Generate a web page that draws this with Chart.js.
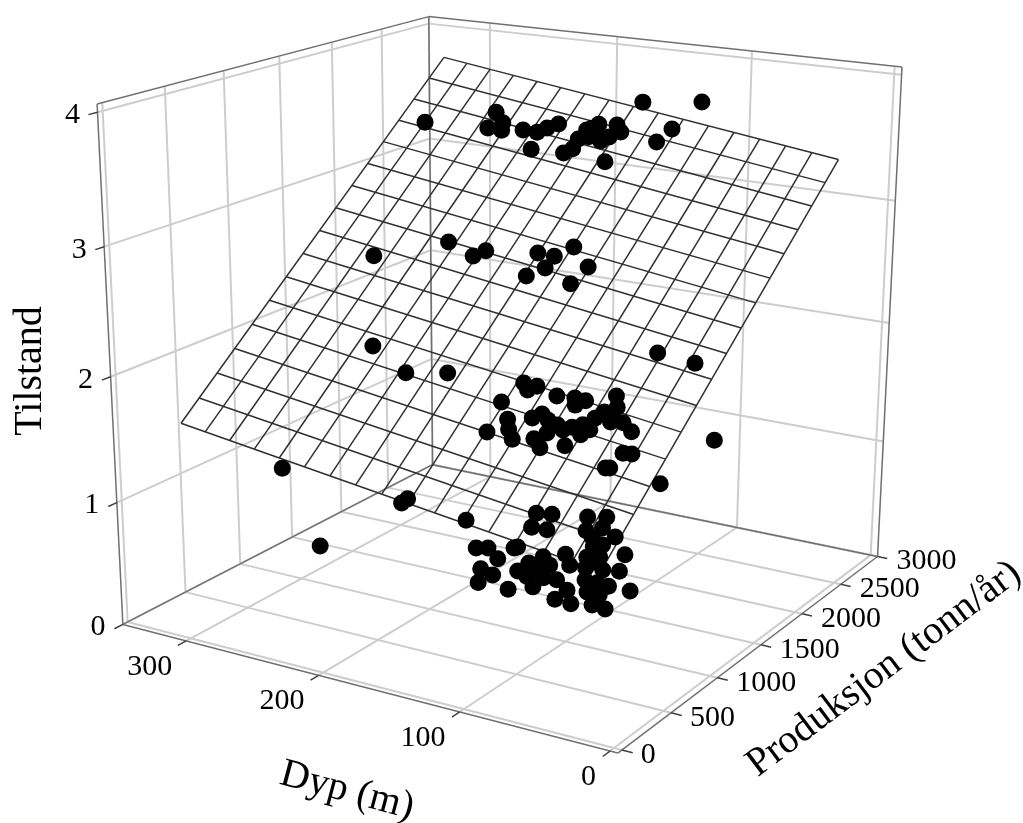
<!DOCTYPE html>
<html>
<head>
<meta charset="utf-8">
<style>body{margin:0;background:#fff}</style>
<script src="https://cdn.jsdelivr.net/npm/chart.js@4"></script>
</head>
<body>
<canvas id="my-chart" width="1023" height="823"></canvas>
<script>
// values, one group per tilstand level
const dyp4 = [171,151,132,132,122,112,102,103,103,82,62,63,73,81,83,69,60,61,73,62,32,92,62,41,32,81,71];
const prod4 = [620,1010,810,670,660,720,710,820,930,370,380,480,680,880,1030,810,700,800,1060,930,320,1620,1780,1120,820,930,750];
const dyp3 = [201,181,151,151,122,110,111,101,81,101,71];
const prod3 = [530,960,790,910,1010,1000,1210,780,910,600,590];
const dyp2 = [251,202,180,130,121,120,122,100,89,82,81,70,59,102,92,81,100,91,90,81,70,71,60,72,65,50,63,52,52,60,60,61,56,49,42,30,16,11,10,12,91,61];
const prod2 = [1130,820,930,990,900,980,660,890,910,810,900,1050,890,440,310,190,220,520,600,530,360,250,150,490,440,240,500,420,510,560,680,790,800,670,690,590,290,300,70,60,1820,1760];
const dyp1 = [91,81,301,150,201,200,200,120,111,110,100,90,80,79,59,70,73,120,114,100,101,100,100,89,90,70,70,79,81,80,72,71,60,62,69,59,54,41,40,29,57,40,51,62,49,39,30,40,24,32,30,22,10,18,9,50,59,21];
const prod1 = [2520,1720,860,700,810,740,0,980,1010,790,800,1070,1120,890,890,820,970,390,420,510,490,320,160,120,0,0,550,460,350,230,290,190,90,220,380,430,230,140,10,0,570,700,610,710,440,460,490,300,290,300,170,170,290,40,30,530,760,130];

const dypTicks = [0,100,200,300];
const prodTicks = [0,500,1000,1500,2000,2500,3000];
const tilstandTicks = [0,1,2,3,4];

// box limits of the 3d axes
const dypLo = -5, dypHi = 350, prodLo = -40, prodHi = 3000, tilstandHi = 4.06;

// fitted regression plane and the extent of its mesh
const planeA = 1.03, planeDyp = 0.0015, planeProd = 0.000858;
const meshDyp = [20,315], meshProd = [150,2700], meshCells = 16;

// camera fitted to the box corners, maps (dyp/100, prod/1000, tilstand) to the flat scales
const camera = [-134.725,141.058,-8.79105,614.068,-15.3046,-28.8965,-144.631,748,0.0332925,0.0637761,-0.0176859];

function project(dyp, prod, tilstand) {
    const d = dyp / 100, p = prod / 1000, c = camera;
    const w = c[8] * d + c[9] * p + c[10] * tilstand + 1;
    return {
        x: (c[0] * d + c[1] * p + c[2] * tilstand + c[3]) / w,
        y: (c[4] * d + c[5] * p + c[6] * tilstand + c[7]) / w
    };
}

function line(from, to, color, width) {
    return {
        type: 'scatter', showLine: true, tension: 0, pointRadius: 0,
        borderColor: color, borderWidth: width, clip: false,
        data: [project(...from), project(...to)]
    };
}

const gridColor = '#cdcdcd', edgeColor = '#707070', meshColor = '#303030', tickColor = '#404040';
const grid = [], edges = [], mesh = [], ticks = [];

// walls and floor
dypTicks.forEach(d => {
    grid.push(line([d, prodLo, 0], [d, prodHi, 0], gridColor, 2));
    grid.push(line([d, prodHi, 0], [d, prodHi, tilstandHi], gridColor, 2));
    ticks.push(line([d, prodLo, 0], [d, prodLo - 70, 0], tickColor, 1.5));
});
prodTicks.forEach(p => {
    grid.push(line([dypLo, p, 0], [dypHi, p, 0], gridColor, 2));
    grid.push(line([dypHi, p, 0], [dypHi, p, tilstandHi], gridColor, 2));
    ticks.push(line([dypLo, p, 0], [dypLo - 7, p, 0], tickColor, 1.5));
});
tilstandTicks.forEach(t => {
    grid.push(line([dypHi, prodLo, t], [dypHi, prodHi, t], gridColor, 2));
    grid.push(line([dypHi, prodHi, t], [dypLo, prodHi, t], gridColor, 2));
    ticks.push(line([dypHi, prodLo, t], [dypHi, prodLo - 70, t], tickColor, 1.5));
});

// box edges
[
    [[dypHi, prodLo, 0], [dypLo, prodLo, 0]],
    [[dypLo, prodLo, 0], [dypLo, prodHi, 0]],
    [[dypLo, prodHi, 0], [dypHi, prodHi, 0]],
    [[dypHi, prodHi, 0], [dypHi, prodLo, 0]],
    [[dypHi, prodLo, 0], [dypHi, prodLo, tilstandHi]],
    [[dypHi, prodHi, 0], [dypHi, prodHi, tilstandHi]],
    [[dypLo, prodHi, 0], [dypLo, prodHi, tilstandHi]],
    [[dypHi, prodLo, tilstandHi], [dypHi, prodHi, tilstandHi]],
    [[dypHi, prodHi, tilstandHi], [dypLo, prodHi, tilstandHi]]
].forEach(e => edges.push(line(e[0], e[1], edgeColor, 1.5)));

// regression plane mesh
function planeAt(d, p) {
    return [d, p, planeA + planeDyp * d + planeProd * p];
}
for (let i = 0; i <= meshCells; i++) {
    const d = meshDyp[0] + (meshDyp[1] - meshDyp[0]) * i / meshCells;
    const p = meshProd[0] + (meshProd[1] - meshProd[0]) * i / meshCells;
    mesh.push(line(planeAt(d, meshProd[0]), planeAt(d, meshProd[1]), meshColor, 1.5));
    mesh.push(line(planeAt(meshDyp[0], p), planeAt(meshDyp[1], p), meshColor, 1.5));
}

function group(dyp, prod, tilstand) {
    return dyp.map((d, i) => project(d, prod[i], tilstand));
}
const points = {
    type: 'scatter', pointRadius: 8.5, pointHoverRadius: 8.5, pointBorderWidth: 0,
    pointBackgroundColor: '#000', clip: false,
    data: [...group(dyp4, prod4, 4), ...group(dyp3, prod3, 3), ...group(dyp2, prod2, 2), ...group(dyp1, prod1, 1)]
};

// tick labels and rotated axis titles
const axisText = {
    id: 'axisText',
    afterDraw(chart) {
        const ctx = chart.ctx, sx = chart.scales.x, sy = chart.scales.y;
        function put(text, x, y, align, size, angle) {
            ctx.save();
            ctx.translate(sx.getPixelForValue(x), sy.getPixelForValue(y));
            ctx.rotate((angle || 0) * Math.PI / 180);
            ctx.font = size + 'px "Liberation Serif"';
            ctx.fillStyle = '#000';
            ctx.textAlign = align;
            ctx.textBaseline = 'middle';
            ctx.fillText(text, 0, 0);
            ctx.restore();
        }
        tilstandTicks.forEach(t => {
            const q = project(dypHi, prodLo, t);
            put(String(t), q.x - 25, q.y + 3, 'center', 30);
        });
        dypTicks.forEach(d => {
            const q = project(d, prodLo, 0);
            put(String(d), q.x - 14, q.y + 26, 'right', 30);
        });
        prodTicks.forEach(p => {
            const q = project(dypLo, p, 0);
            put(String(p), q.x + 19, q.y + 5, 'left', 30);
        });
        put('Tilstand', 30, 371, 'center', 40, -90);
        put('Dyp (m)', 347, 791, 'center', 40, 15);
        put('Produksjon (tonn/år)', 884, 669, 'center', 40, -37);
    }
};

const ctx = document.getElementById('my-chart').getContext('2d');
const chart = new Chart(ctx, {
    type: 'scatter',
    // the first dataset ends up on top
    data: { datasets: [points, ...mesh, ...ticks, ...edges, ...grid] },
    options: {
        responsive: false,
        animation: false,
        layout: { padding: 0, autoPadding: false },
        plugins: { legend: { display: false }, tooltip: { enabled: false } },
        scales: {
            x: { type: 'linear', display: false, min: 0, max: 1023 },
            y: { type: 'linear', display: false, min: 0, max: 823, reverse: true }
        }
    },
    plugins: [axisText]
});
</script>
</body>
</html>
